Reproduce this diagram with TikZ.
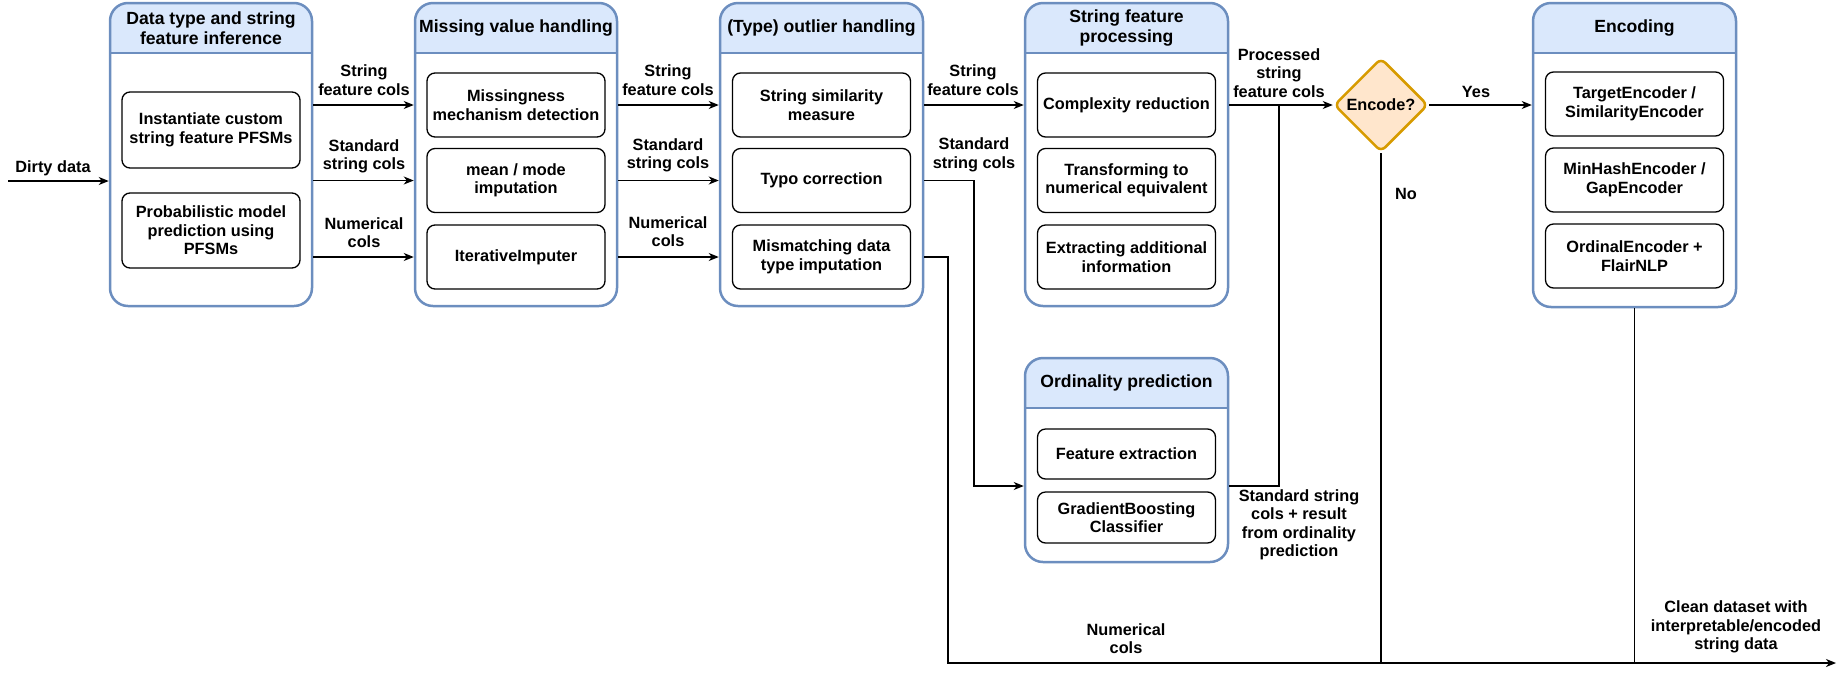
\documentclass[tikz,border=0pt]{standalone}
\usepackage{fontspec}
\setmainfont{Liberation Sans}
\usetikzlibrary{shapes.geometric,arrows.meta,fit}
\definecolor{bord}{HTML}{6C8EBF}
\definecolor{hfill}{HTML}{DAE8FC}
\definecolor{dfill}{HTML}{FFE6CC}
\definecolor{dbord}{HTML}{D79B00}
\newcommand\mkcont[7]{%
  \begin{scope}
    \clip (#2,#3) rectangle (#4,#6);
    \fill[hfill, rounded corners=18pt] (#2,#3) rectangle (#4,#5);
  \end{scope}
  \node[cont, fit={(#2,#3) (#4,#5)}] (#1) {};
  \draw[bord, line width=2.5pt] (#2,#6) -- (#4,#6);
  \node[htxt] (#1t) at ({(#2+#4)/2},{(#3+#6)/2}) {#7};
}
\begin{document}
\begin{tikzpicture}[x=1pt,y=-1pt,
  txt/.style={font=\fontsize{16.3}{18.5}\selectfont\bfseries, align=center, inner sep=0pt},
  htxt/.style={font=\fontsize{17.6}{20.5}\selectfont\bfseries, align=center, inner sep=0pt},
  cont/.style={draw=bord, line width=2.5pt, rounded corners=18pt, inner sep=0pt},
  ibox/.style={txt, draw=black, line width=1.3pt, rounded corners=8pt, minimum width=178pt, minimum height=64pt},
  lbl/.style={txt},
  dia/.style={txt, diamond, draw=dbord, fill=dfill, line width=2.5pt, minimum width=94pt, minimum height=94pt, rounded corners=6pt},
  conn/.style={line width=1.3pt, draw=black},
  arr/.style={conn, -{Stealth[length=10pt,width=8pt,inset=3pt]}}
]
\useasboundingbox (0,0) rectangle (1847,673);

% containers
\mkcont{b1}{110}{3}{312}{306}{53}{Data type and string\\feature inference}
\mkcont{b2}{415}{3}{617}{306}{53}{Missing value handling}
\mkcont{b3}{720}{3}{923}{306}{53}{(Type) outlier handling}
\mkcont{b4}{1025}{3}{1228}{306}{53}{String feature\\processing}
\mkcont{b5}{1025}{358}{1228}{562}{408}{Ordinality prediction}
\mkcont{b6}{1533}{3}{1736}{307}{53}{Encoding}

% inner boxes
\node[ibox, minimum height=76pt] (b1a) at (211,130) {Instantiate custom\\string feature PFSMs};
\node[ibox, minimum height=75pt] (b1b) at (211,230.5) {Probabilistic model\\prediction using\\PFSMs};

\node[ibox] (b2a) at (516,105) {Missingness\\mechanism detection};
\node[ibox] (b2b) at (516,180.5) {mean / mode\\imputation};
\node[ibox] (b2c) at (516,257) {IterativeImputer};

\node[ibox] (b3a) at (821.5,105) {String similarity\\measure};
\node[ibox] (b3b) at (821.5,180.5) {Typo correction};
\node[ibox] (b3c) at (821.5,257) {Mismatching data\\type imputation};

\node[ibox] (b4a) at (1126.5,105) {Complexity reduction};
\node[ibox] (b4b) at (1126.5,180.5) {Transforming to\\numerical equivalent};
\node[ibox] (b4c) at (1126.5,257) {Extracting additional\\information};

\node[ibox, minimum height=50pt] (b5a) at (1126.5,454) {Feature extraction};
\node[ibox, minimum height=51pt] (b5b) at (1126.5,517.5) {GradientBoosting\\Classifier};

\node[ibox] (b6a) at (1634.5,104) {TargetEncoder /\\SimilarityEncoder};
\node[ibox] (b6b) at (1634.5,180) {MinHashEncoder /\\GapEncoder};
\node[ibox] (b6c) at (1634.5,256) {OrdinalEncoder +\\FlairNLP};

% decision
\node[dia] (d) at (1381,105) {Encode?};

% coordinates
\coordinate (src) at (8,181);
\coordinate (k1) at (974,486);
\coordinate (k2) at (948,663);
\coordinate (out) at (1836,663);
\coordinate (k3) at (1279,105);

% connectors
\draw[arr] (src) -- (src -| b1.west);
\draw[arr] (b1.east |- b2a) -- (b2.west |- b2a);
\draw[arr] (b1.east |- b2b) -- (b2.west |- b2b);
\draw[arr] (b1.east |- b2c) -- (b2.west |- b2c);
\draw[arr] (b2.east |- b3a) -- (b3.west |- b3a);
\draw[arr] (b2.east |- b3b) -- (b3.west |- b3b);
\draw[arr] (b2.east |- b3c) -- (b3.west |- b3c);
\draw[arr] (b3.east |- b4a) -- (b4.west |- b4a);
\draw[arr] (b3.east |- b3b) -| (k1) -- (k1 -| b5.west);
\draw[arr] (b3.east |- b3c) -| (k2) -- (out);
\draw[arr] (b4.east |- d) -- (d.west);
\draw[conn] (k1 -| b5.east) -| (k3);
\draw[arr] (d.east) -- (d.east -| b6.west);
\draw[conn] (d.south) -- (d.south |- out);
\draw[conn] (b6.south) -- (b6.south |- out);

% labels
\node[lbl] (l0) at (53,168) {Dirty data};
\node[lbl] (l1) at (364,80) {String\\feature cols};
\node[lbl] (l2) at (364,156.5) {Standard\\string cols};
\node[lbl] (l3) at (364,232.5) {Numerical\\cols};
\node[lbl] (l4) at (668,80) {String\\feature cols};
\node[lbl] (l5) at (668,155.5) {Standard\\string cols};
\node[lbl] (l6) at (668,231.5) {Numerical\\cols};
\node[lbl] (l7) at (973,80) {String\\feature cols};
\node[lbl] (l8) at (974,155) {Standard\\string cols};
\node[lbl] (l9) at (1279,73) {Processed\\string\\feature cols};
\node[lbl] (l10) at (1476,92) {Yes};
\node[lbl] (l11) at (1406,194) {No};
\node[lbl] (l12) at (1299,525) {Standard string\\cols + result\\from ordinality\\prediction};
\node[lbl] (l13) at (1126,638.5) {Numerical\\cols};
\node[lbl] (l14) at (1736,627) {Clean dataset with\\interpretable/encoded\\string data};
\end{tikzpicture}
\end{document}
